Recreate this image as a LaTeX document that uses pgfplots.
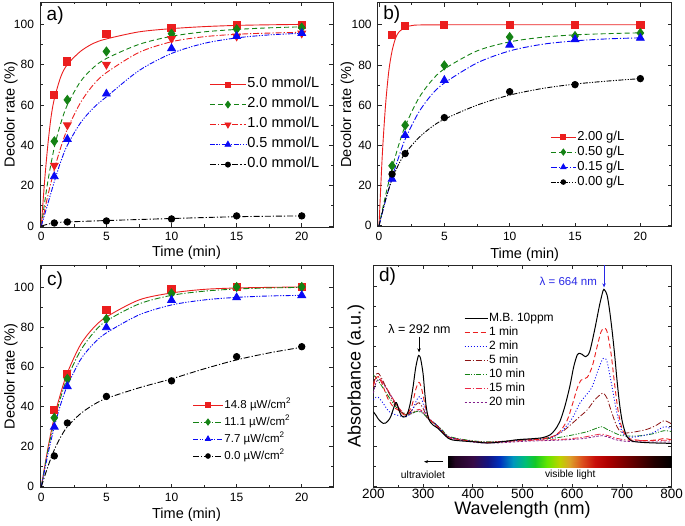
\documentclass[border=0pt]{standalone}
\usepackage{pgfplots}
\pgfplotsset{compat=1.18}
\usetikzlibrary{arrows.meta}
\usepackage{fontspec}
\setmainfont{Liberation Sans}
\definecolor{cred}{RGB}{235,30,30}
\definecolor{cgreen}{RGB}{20,130,20}
\definecolor{cblue}{RGB}{10,10,245}
\definecolor{cmaroon}{RGB}{140,20,20}
\definecolor{cpink}{RGB}{235,40,70}
\definecolor{cpurple}{RGB}{130,30,140}
\definecolor{clab}{RGB}{40,40,230}
\tikzset{
 dsh/.style={dash pattern=on 5pt off 3pt},
 dshdot/.style={dash pattern=on 6pt off 2pt on 1.2pt off 2pt},
 dshdotdot/.style={dash pattern=on 5pt off 1.5pt on 1.2pt off 1.5pt on 1.2pt off 1.5pt},
 dtd/.style={dash pattern=on 1pt off 2pt},
 sdsh/.style={dash pattern=on 2.5pt off 1.5pt},
}
\pgfplotsset{
 colormap={spec}{rgb255(0pt)=(0,0,0) rgb255(15pt)=(35,5,35) rgb255(50pt)=(55,10,70) rgb255(80pt)=(20,20,130) rgb255(105pt)=(0,50,190) rgb255(130pt)=(0,150,190) rgb255(155pt)=(0,190,120) rgb255(175pt)=(20,200,40) rgb255(200pt)=(100,230,0) rgb255(225pt)=(190,210,0) rgb255(245pt)=(220,160,40) rgb255(270pt)=(220,80,30) rgb255(295pt)=(200,15,10) rgb255(320pt)=(175,0,0) rgb255(350pt)=(130,0,0) rgb255(385pt)=(80,0,0) rgb255(415pt)=(35,0,0) rgb255(450pt)=(0,0,0)},
 common/.style={
  scale only axis, anchor=south west,
  tick align=inside, major tick length=4pt, minor tick length=2.5pt,
  axis line style={line width=0.9pt, black!85},
  every tick/.style={line width=0.7pt, black!85},
  /pgf/number format/assume math mode=true,
  legend cell align=left,
  legend image code/.code={\draw[mark repeat=2,mark phase=2,#1] plot coordinates {(0pt,0pt)(\leglen/2,0pt)(\leglen,0pt)};},
  every axis plot/.append style={line width=0.9pt},
 },
 panel/.style={common,
  xmin=-0.1, xmax=22.4, ymin=-0.5, ymax=111,
  xtick={0,5,10,15,20}, ytick={0,20,40,60,80,100},
  minor x tick num=1, minor y tick num=1,
  tick label style={font=\fontsize{12}{14}\selectfont},
  xticklabel style={yshift=-2pt},
  yticklabel style={xshift=-2.5pt},
  label style={font=\fontsize{14.5}{17}\selectfont},
  xlabel={Time (min)}, ylabel={Decolor rate (\%)},
 },
}
\begin{document}
\begin{tikzpicture}[x=1pt,y=1pt]
\path[use as bounding box] (0,0) rectangle (685,525);

% ---------------- panel a ----------------
\def\leglen{36pt}
\begin{axis}[panel, at={(40pt,298pt)}, width=293pt, height=225pt,
 ylabel style={at={(axis description cs:-0.099,0.5)},anchor=center},
 xlabel style={at={(axis description cs:0.5,-0.1156)},anchor=center},
 legend style={draw=none, fill=none, at={(axis cs:12.9,74)}, anchor=north west, inner sep=0pt,
   font=\fontsize{14.5}{16}\selectfont, row sep=4.5pt, nodes={inner sep=1pt, text height=10pt, text depth=3.5pt}}]
\addplot[cred, smooth, forget plot] coordinates {(0,0)(0.25,22)(0.5,40)(0.75,54)(1,63)(1.5,74)(2,80)(3,86.5)(4,90.5)(5,92.7)(7.5,96.2)(10,97.8)(12.5,98.8)(15,99.4)(17.5,99.7)(20,99.9)};
\addplot[cgreen, dsh, smooth, forget plot] coordinates {(0,0)(0.5,22)(1,39)(1.5,51)(2,60)(3,71.5)(4,78.5)(5,83)(7.5,90)(10,94)(12.5,96.2)(15,97.4)(17.5,98.2)(20,98.7)};
\addplot[cred, dshdot, smooth, forget plot] coordinates {(0,0)(0.5,15)(1,28)(1.5,39)(2,48)(3,61)(4,70)(5,76)(7.5,86)(10,91.3)(12.5,93.8)(15,95)(17.5,95.6)(20,96)};
\addplot[cblue, dshdotdot, smooth, forget plot] coordinates {(0,0)(0.5,11)(1,22)(1.5,32)(2,40)(3,51)(4,58.5)(5,64)(7.5,77)(10,85.5)(12.5,90.5)(15,93.2)(17.5,94.7)(20,95.5)};
\addplot[black, dshdot, smooth, forget plot] coordinates {(0,0)(1,1.6)(2,2.0)(5,2.7)(10,3.7)(15,4.6)(20,5.0)};
\addplot[only marks, mark=square*, mark size=3.6pt, cred, forget plot] coordinates {(1,65)(2,81.5)(5,95)(10,98.2)(15,99.8)(20,99.8)};
\addplot[only marks, mark=diamond*, mark size=4.4pt, cgreen, forget plot] coordinates {(1,42)(2,62.5)(5,86.5)(10,95.3)(15,97.5)(20,98.3)};
\addplot[only marks, mark=triangle*, mark options={rotate=180}, mark size=4.4pt, cred, forget plot] coordinates {(1,30)(2,50)(5,80)(10,92.8)(15,94)(20,95.5)};
\addplot[only marks, mark=triangle*, mark size=4.4pt, cblue, forget plot] coordinates {(1,24.5)(2,43)(5,65.5)(10,88)(15,94)(20,95.5)};
\addplot[only marks, mark=*, mark size=3.2pt, black, forget plot] coordinates {(1,1.5)(2,2)(5,2.5)(10,3.5)(15,5)(20,5)};
\addlegendimage{cred, mark=square*, mark size=2.6pt, mark options={solid}}
\addlegendentry{5.0 mmol/L}
\addlegendimage{cgreen, dsh, mark=diamond*, mark size=3.3pt, mark options={solid}}
\addlegendentry{2.0 mmol/L}
\addlegendimage{cred, dshdot, mark=triangle*, mark size=3.3pt, mark options={solid,rotate=180}}
\addlegendentry{1.0 mmol/L}
\addlegendimage{cblue, dshdotdot, mark=triangle*, mark size=3.3pt, mark options={solid}}
\addlegendentry{0.5 mmol/L}
\addlegendimage{black, dshdot, mark=*, mark size=2.5pt, mark options={solid}}
\addlegendentry{0.0 mmol/L}
\node[anchor=north west, inner sep=0pt, font=\fontsize{19}{21}\selectfont] at ([xshift=6.5pt,yshift=-5pt]rel axis cs:0,1) {a)};
\end{axis}

% ---------------- panel b ----------------
\def\leglen{25pt}
\begin{axis}[panel, at={(377.7pt,298.3pt)}, width=294pt, height=224pt,
 ylabel style={at={(axis description cs:-0.103,0.5)},anchor=center},
 xlabel style={at={(axis description cs:0.5,-0.126)},anchor=center},
 legend style={draw=none, fill=none, at={(axis cs:13.1,47.7)}, anchor=north west, inner sep=0pt,
   font=\fontsize{13}{15}\selectfont, row sep=1pt, nodes={inner sep=1pt, text height=9pt, text depth=3pt}}]
\addplot[cred, smooth, forget plot] coordinates {(0,0)(0.25,35)(0.5,60)(0.75,77)(1,87)(1.25,93)(1.5,96.2)(2,98.8)(2.5,99.6)(3,99.9)(5,100)(10,100)(15,100)(20,100)};
\addplot[cgreen, dsh, smooth, forget plot] coordinates {(0,0)(0.5,15)(1,28.5)(1.5,40)(2,49.5)(3,63)(4,72)(5,78)(7.5,87)(10,91.5)(12.5,93.8)(15,95)(17.5,95.6)(20,96)};
\addplot[cblue, dshdot, smooth, forget plot] coordinates {(0,0)(0.5,12.5)(1,24)(1.5,34)(2,43)(3,56)(4,65)(5,71)(7.5,81)(10,87)(12.5,90.3)(15,92)(17.5,93)(20,93.5)};
\addplot[black, dshdotdot, smooth, forget plot] coordinates {(0,0)(0.5,13)(1,23)(1.5,30.5)(2,36)(3,43.5)(4,49)(5,53)(7.5,60)(10,65)(12.5,68.3)(15,70.5)(17.5,72)(20,73.2)};
\addplot[only marks, mark=square*, mark size=3.6pt, cred, forget plot] coordinates {(1,95)(2,99.3)(5,100)(10,100)(15,100)(20,100)};
\addplot[only marks, mark=diamond*, mark size=4.4pt, cgreen, forget plot] coordinates {(1,29.8)(2,50)(5,79.8)(10,93.9)(15,94.4)(20,95.9)};
\addplot[only marks, mark=triangle*, mark size=4.4pt, cblue, forget plot] coordinates {(1,23.2)(2,45)(5,72.4)(10,90)(15,92.7)(20,93.4)};
\addplot[only marks, mark=*, mark size=3.2pt, black, forget plot] coordinates {(1,25.7)(2,35.9)(5,53.8)(10,66.7)(15,70.2)(20,73.2)};
\addlegendimage{cred, mark=square*, mark size=2.4pt, mark options={solid}}
\addlegendentry{2.00 g/L}
\addlegendimage{cgreen, dsh, mark=diamond*, mark size=3pt, mark options={solid}}
\addlegendentry{0.50 g/L}
\addlegendimage{cblue, dshdot, mark=triangle*, mark size=3pt, mark options={solid}}
\addlegendentry{0.15 g/L}
\addlegendimage{black, dshdotdot, mark=*, mark size=2.3pt, mark options={solid}}
\addlegendentry{0.00 g/L}
\node[anchor=north west, inner sep=0pt, font=\fontsize{19}{21}\selectfont] at ([xshift=5.5pt,yshift=-3pt]rel axis cs:0,1) {b)};
\end{axis}

% ---------------- panel c ----------------
\def\leglen{30pt}
\begin{axis}[panel, at={(40pt,37.3pt)}, width=293pt, height=222.7pt,
 ylabel style={at={(axis description cs:-0.099,0.5)},anchor=center},
 xlabel style={at={(axis description cs:0.5,-0.1226)},anchor=center},
 legend style={draw=none, fill=none, at={(axis cs:11.6,44.5)}, anchor=north west, inner sep=0pt,
   font=\fontsize{11.5}{14}\selectfont, row sep=3pt, nodes={inner sep=1pt, text height=9pt, text depth=3pt}}]
\addplot[cred, smooth, forget plot] coordinates {(0,0)(0.5,19)(1,35)(1.5,47)(2,57)(3,71)(4,79.5)(5,85)(7.5,93.5)(10,97)(12.5,98.8)(15,99.5)(17.5,99.8)(20,100)};
\addplot[cgreen, dshdot, smooth, forget plot] coordinates {(0,0)(0.5,18)(1,33)(1.5,45)(2,54.5)(3,68)(4,77)(5,83)(7.5,91.5)(10,95.8)(12.5,97.9)(15,99)(17.5,99.5)(20,99.8)};
\addplot[cblue, dshdotdot, smooth, forget plot] coordinates {(0,0)(0.5,16)(1,30)(1.5,41.5)(2,50.5)(3,63.5)(4,71.5)(5,77)(7.5,86)(10,91)(12.5,93.5)(15,94.8)(17.5,95.5)(20,95.8)};
\addplot[black, dshdot, smooth, forget plot] coordinates {(0,0)(0.5,10)(1,18.5)(1.5,25)(2,30)(3,36.5)(4,41)(5,44.2)(7.5,49.5)(10,54)(12.5,59)(15,63.5)(17.5,67)(20,69.8)};
\addplot[only marks, mark=square*, mark size=3.6pt, cred, forget plot] coordinates {(1,38.5)(2,56.5)(5,88.4)(10,99.2)(15,100)(20,100)};
\addplot[only marks, mark=diamond*, mark size=4.4pt, cgreen, forget plot] coordinates {(1,34.5)(2,54)(5,84)(10,96.8)(15,100)(20,100)};
\addplot[only marks, mark=triangle*, mark size=4.4pt, cblue, forget plot] coordinates {(1,29.9)(2,50.2)(5,79.7)(10,93.4)(15,94.7)(20,95.8)};
\addplot[only marks, mark=*, mark size=3.2pt, black, forget plot] coordinates {(1,15.4)(2,31.9)(5,45.2)(10,53)(15,65.1)(20,70.1)};
\addlegendimage{cred, mark=square*, mark size=2.4pt, mark options={solid}}
\addlegendentry{14.8 µW/cm\textsuperscript{2}}
\addlegendimage{cgreen, dshdot, mark=diamond*, mark size=3pt, mark options={solid}}
\addlegendentry{11.1 µW/cm\textsuperscript{2}}
\addlegendimage{cblue, dshdotdot, mark=triangle*, mark size=3pt, mark options={solid}}
\addlegendentry{7.7 µW/cm\textsuperscript{2}}
\addlegendimage{black, dshdot, mark=*, mark size=2.3pt, mark options={solid}}
\addlegendentry{0.0 µW/cm\textsuperscript{2}}
\node[anchor=north west, inner sep=0pt, font=\fontsize{19}{21}\selectfont] at ([xshift=7pt,yshift=-7pt]rel axis cs:0,1) {c)};
\end{axis}

% ---------------- panel d ----------------
\def\leglen{23pt}
\begin{axis}[common, at={(373.3pt,37.3pt)}, width=298.4pt, height=222.7pt,
 xmin=200, xmax=800, ymin=-3, ymax=665,
 xtick={200,300,400,500,600,700,800}, minor x tick num=1,
 ytick={0,120,240,360,480,600}, minor y tick num=1, yticklabels={},
 tick label style={font=\fontsize{13.5}{15}\selectfont},
 xticklabel style={yshift=2pt},
 label style={font=\fontsize{18}{20}\selectfont},
 xlabel={Wavelength (nm)}, ylabel={Absorbance (a.u.)},
 ylabel style={at={(axis description cs:-0.058,0.5)},anchor=center},
 xlabel style={at={(axis description cs:0.5,-0.1)},anchor=center},
 point meta min=350, point meta max=800, colormap name=spec,
 legend style={draw=none, fill=none, at={(axis cs:382,526)}, anchor=north west, inner sep=0pt,
   font=\fontsize{12}{14}\selectfont, row sep=0.5pt, nodes={inner sep=1pt, text height=8.5pt, text depth=3pt}}]
\addplot[patch, shader=interp, point meta=x, forget plot, line width=0pt] coordinates {
(350,58)(365,58)(365,92) (350,58)(365,92)(350,92)
(365,58)(400,58)(400,92) (365,58)(400,92)(365,92)
(400,58)(430,58)(430,92) (400,58)(430,92)(400,92)
(430,58)(455,58)(455,92) (430,58)(455,92)(430,92)
(455,58)(480,58)(480,92) (455,58)(480,92)(455,92)
(480,58)(505,58)(505,92) (480,58)(505,92)(480,92)
(505,58)(525,58)(525,92) (505,58)(525,92)(505,92)
(525,58)(550,58)(550,92) (525,58)(550,92)(525,92)
(550,58)(575,58)(575,92) (550,58)(575,92)(550,92)
(575,58)(595,58)(595,92) (575,58)(595,92)(575,92)
(595,58)(620,58)(620,92) (595,58)(620,92)(595,92)
(620,58)(645,58)(645,92) (620,58)(645,92)(620,92)
(645,58)(670,58)(670,92) (645,58)(670,92)(645,92)
(670,58)(700,58)(700,92) (670,58)(700,92)(670,92)
(700,58)(735,58)(735,92) (700,58)(735,92)(700,92)
(735,58)(765,58)(765,92) (735,58)(765,92)(735,92)
(765,58)(800,58)(800,92) (765,58)(800,92)(765,92)
};
\addplot[cpurple, sdsh, smooth, line width=0.8pt, forget plot] coordinates {(200,280)(205,310)(210,322)(215,318)(225,298)(235,275)(245,250)(255,228)(265,215)(275,218)(285,225)(292,228)(300,222)(310,203)(325,186)(340,163)(350,148)(380,138)(420,131)(460,132)(500,136)(540,138)(580,140)(620,144)(645,150)(660,153)(670,150)(690,140)(710,136)(750,134)(800,134)};
\addplot[cpink, dshdot, smooth, line width=0.8pt, forget plot] coordinates {(200,310)(205,325)(210,330)(215,322)(225,300)(235,275)(245,250)(255,230)(265,218)(275,220)(285,228)(292,232)(300,225)(310,205)(325,188)(340,165)(350,150)(380,140)(420,133)(460,134)(500,138)(540,140)(580,142)(620,148)(645,155)(660,158)(670,154)(690,145)(710,140)(750,138)(800,140)};
\addplot[cgreen, dshdotdot, smooth, line width=0.8pt, forget plot] coordinates {(200,335)(205,328)(210,318)(220,295)(230,272)(240,250)(250,232)(260,220)(270,215)(280,222)(290,226)(300,220)(310,205)(325,188)(340,168)(350,152)(380,142)(420,135)(460,136)(500,140)(540,143)(570,147)(600,155)(630,165)(650,176)(660,180)(670,172)(690,158)(700,153)(730,152)(760,158)(785,168)(800,165)};
\addplot[cmaroon, dshdot, smooth, line width=0.8pt, forget plot] coordinates {(200,305)(205,335)(210,340)(215,330)(225,300)(235,270)(245,245)(255,225)(265,215)(275,225)(285,245)(292,252)(300,235)(310,205)(325,188)(340,165)(350,150)(380,140)(420,133)(460,136)(500,141)(540,145)(560,150)(580,165)(600,190)(615,210)(630,230)(645,260)(658,278)(663,280)(670,265)(680,220)(690,180)(700,162)(720,163)(750,172)(770,185)(785,198)(800,188)};
\addplot[cblue, dtd, smooth, line width=0.9pt, forget plot] coordinates {(200,260)(205,268)(210,268)(220,250)(230,228)(240,218)(250,214)(260,210)(270,212)(280,235)(288,262)(293,270)(298,260)(305,225)(312,205)(325,188)(340,165)(350,150)(380,140)(420,133)(460,135)(500,140)(540,143)(560,148)(580,168)(600,205)(615,250)(628,275)(640,300)(652,350)(660,380)(664,385)(670,375)(680,300)(690,220)(700,165)(710,150)(730,150)(760,160)(785,180)(800,172)};
\addplot[cred, dsh, smooth, line width=0.9pt, forget plot] coordinates {(200,300)(205,325)(210,330)(215,318)(220,300)(225,280)(230,262)(240,240)(250,230)(255,225)(262,215)(270,222)(278,245)(285,290)(290,310)(293,312)(297,295)(302,260)(308,220)(315,200)(325,185)(340,163)(350,148)(380,140)(420,133)(460,135)(500,140)(540,143)(560,150)(575,165)(590,200)(600,245)(610,295)(618,320)(630,328)(640,360)(650,420)(658,465)(664,475)(670,465)(678,400)(685,310)(692,230)(700,175)(710,150)(720,142)(750,138)(775,142)(785,145)(800,140)};
\addplot[black, smooth, line width=1pt, forget plot] coordinates {(200,225)(205,215)(210,203)(215,195)(220,190)(225,191)(230,198)(235,210)(240,232)(245,252)(248,248)(252,228)(256,214)(260,209)(265,210)(270,225)(275,255)(280,300)(285,355)(290,390)(292,393)(295,385)(300,340)(303,290)(306,245)(310,210)(315,193)(320,185)(330,175)(340,160)(350,146)(360,140)(380,137)(400,135)(430,131)(460,135)(490,141)(520,144)(540,147)(555,155)(565,170)(575,195)(585,240)(595,300)(603,360)(610,395)(615,400)(620,397)(627,390)(635,405)(645,470)(655,545)(662,588)(665,590)(670,575)(675,530)(680,470)(685,400)(690,320)(695,250)(700,200)(705,170)(710,150)(720,137)(740,133)(770,131)(800,130)};
\addlegendimage{black, line width=1pt}
\addlegendentry{M.B. 10ppm}
\addlegendimage{cred, dsh}
\addlegendentry{1 min}
\addlegendimage{cblue, dtd}
\addlegendentry{2 min}
\addlegendimage{cmaroon, dshdot}
\addlegendentry{5 min}
\addlegendimage{cgreen, dshdotdot}
\addlegendentry{10 min}
\addlegendimage{cpink, dshdot}
\addlegendentry{15 min}
\addlegendimage{cpurple, sdsh}
\addlegendentry{20 min}
\node[font=\fontsize{12.5}{14}\selectfont] at (axis cs:293,472) {λ = 292 nm};
\draw[-{Stealth[length=4pt,width=3.5pt]}, line width=0.7pt] (axis cs:292,450) -- (axis cs:292,403);
\node[clab, font=\fontsize{11.5}{14}\selectfont] at (axis cs:592,615) {λ = 664 nm};
\draw[clab, -{Stealth[length=4pt,width=3.5pt]}, line width=0.7pt] (axis cs:664,665) -- (axis cs:664,598);
\draw[-{Stealth[length=4pt,width=3pt]}, line width=0.6pt] (axis cs:341,75) -- (axis cs:302,75);
\node[font=\fontsize{10.3}{12}\selectfont] at (axis cs:300,36) {ultraviolet};
\node[font=\fontsize{10.3}{12}\selectfont] at (axis cs:596,36) {visible light};
\node[anchor=north west, inner sep=0pt, font=\fontsize{19}{21}\selectfont] at ([xshift=5.5pt,yshift=-3pt]rel axis cs:0,1) {d)};
\end{axis}
\end{tikzpicture}
\end{document}
